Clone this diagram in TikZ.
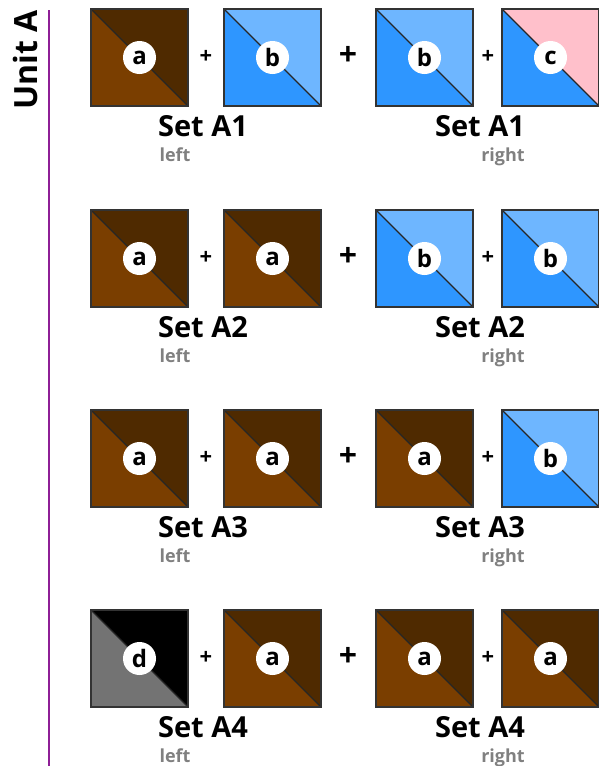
\documentclass[tikz,border=0pt]{standalone}
\usepackage{fontspec}
\setmainfont{Open Sans}
\definecolor{brdark}{HTML}{4F2A00}
\definecolor{brlight}{HTML}{7A3E00}
\definecolor{bllight}{HTML}{6EB6FF}
\definecolor{blmid}{HTML}{2E96FF}
\definecolor{pinkc}{HTML}{FFC0CB}
\definecolor{grayc}{HTML}{737373}
\definecolor{blackc}{HTML}{000000}
\definecolor{purplec}{HTML}{8E1F96}
\definecolor{labgray}{HTML}{808080}
\tikzset{
  sq/.style={draw=black!80, line width=1.3pt},
  diag/.style={draw=black!85, line width=1.1pt},
  badge/.style={circle, fill=white, minimum size=33pt, inner sep=0pt, font=\bfseries\fontsize{24}{24}\selectfont},
  setlab/.style={anchor=base, font=\bfseries\fontsize{29}{29}\selectfont},
  sublab/.style={anchor=base, text=labgray, font=\bfseries\fontsize{18}{18}\selectfont},
  plussmall/.style={font=\bfseries\fontsize{22}{22}\selectfont},
  plusbig/.style={font=\bfseries\fontsize{32}{32}\selectfont},
}
% #1 name, #2 x left, #3 y top, #4 upper-right colour, #5 lower-left colour, #6 letter
\newcommand{\tile}[6]{%
  \fill[#4] (#2,#3) -- (#2+97,#3) -- (#2+97,#3+97) -- cycle;
  \fill[#5] (#2,#3) -- (#2,#3+97) -- (#2+97,#3+97) -- cycle;
  \draw[diag] (#2,#3) -- (#2+97,#3+97);
  \draw[sq] (#2,#3) rectangle (#2+97,#3+97);
  \node[badge] (#1) at (#2+48.5,#3+48.5) {#6};
}
\begin{document}
\begin{tikzpicture}[x=1pt,y=-1pt]
\useasboundingbox (0,0) rectangle (599,766);
\node[rotate=90, font=\bfseries\fontsize{32}{32}\selectfont, anchor=center] (unit) at (25,60) {Unit A};
\coordinate (ltop) at (49,10);
\coordinate (lbot) at (49,766);
\draw[purplec, line width=2pt] (ltop) -- (lbot);
% row 1
\tile{r1a}{91}{9}{brdark}{brlight}{a}
\tile{r1b}{224}{9}{bllight}{blmid}{b}
\tile{r1c}{376}{9}{bllight}{blmid}{b}
\tile{r1d}{502}{9}{pinkc}{blmid}{c}
% row 2
\tile{r2a}{91}{210}{brdark}{brlight}{a}
\tile{r2b}{224}{210}{brdark}{brlight}{a}
\tile{r2c}{376}{210}{bllight}{blmid}{b}
\tile{r2d}{502}{210}{bllight}{blmid}{b}
% row 3
\tile{r3a}{91}{410}{brdark}{brlight}{a}
\tile{r3b}{224}{410}{brdark}{brlight}{a}
\tile{r3c}{376}{410}{brdark}{brlight}{a}
\tile{r3d}{502}{410}{bllight}{blmid}{b}
% row 4
\tile{r4a}{91}{610}{blackc}{grayc}{d}
\tile{r4b}{224}{610}{brdark}{brlight}{a}
\tile{r4c}{376}{610}{brdark}{brlight}{a}
\tile{r4d}{502}{610}{brdark}{brlight}{a}
% plus signs and labels
\foreach \r/\t/\n in {1/9/1,2/210/2,3/410/3,4/610/4}{
  \node[plussmall] (p\r a) at (206,\t+48) {+};
  \node[plusbig] (p\r b) at (348,\t+47) {+};
  \node[plussmall] (p\r c) at (488,\t+48) {+};
  \node[setlab] (s\r l) at (203,\t+127) {Set A\n};
  \node[setlab] (s\r r) at (480,\t+127) {Set A\n};
  \node[sublab] (u\r l) at (175,\t+152) {left};
  \node[sublab] (u\r r) at (503,\t+152) {right};
}
\end{tikzpicture}
\end{document}
